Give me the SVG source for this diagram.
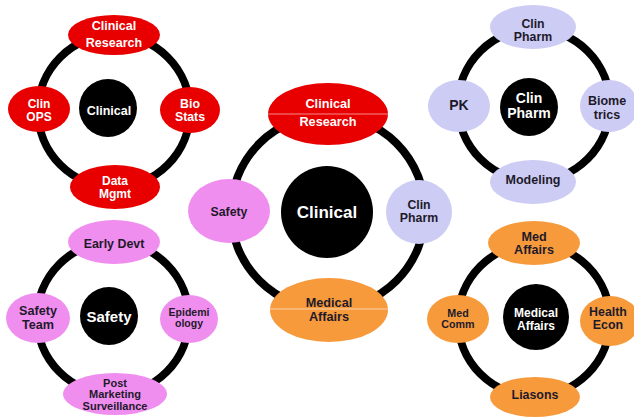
<svg xmlns="http://www.w3.org/2000/svg" width="634" height="418" viewBox="0 0 634 418">
<style>
.ring{fill:none;stroke:#000;stroke-width:8}
.hub{fill:#000}
.red{fill:#e80000}
.pink{fill:#f08ef0}
.lav{fill:#ccccf5}
.org{fill:#f79a3c}
text{font-family:"Liberation Sans",Arial,sans-serif;font-weight:bold;text-anchor:middle}
.w{fill:#fff}
.d{fill:#1e1a2a}
.seam{stroke:#fff;stroke-opacity:0.55;stroke-width:1}
</style>
<rect width="634" height="418" fill="#fff"/>
<g id="connectors">
<circle class="ring" cx="114" cy="111" r="76"/>
<circle class="ring" cx="328" cy="212" r="97" stroke-width="9"/>
<circle class="ring" cx="534" cy="105" r="76"/>
<circle class="ring" cx="113" cy="318" r="76"/>
<circle class="ring" cx="534" cy="320" r="76"/>
</g>
<!-- top-left cluster -->
<g id="tl-hub"><circle class="hub" cx="108" cy="108" r="29"/><text class="w" x="109" y="115" font-size="12.5">Clinical</text></g>
<g id="tl-clinical-research"><ellipse class="red" cx="114" cy="35" rx="46" ry="20"/><text class="w" x="114" y="29.5" font-size="12.5">Clinical</text><text class="w" x="114" y="47" font-size="12.5">Research</text></g>
<g id="tl-clin-ops"><ellipse class="red" cx="39" cy="109" rx="31" ry="23"/><text class="w" x="39" y="108" font-size="12">Clin</text><text class="w" x="39" y="121" font-size="12">OPS</text></g>
<g id="tl-bio-stats"><ellipse class="red" cx="190" cy="110" rx="30" ry="23"/><text class="w" x="190" y="108" font-size="12.3">Bio</text><text class="w" x="190" y="121" font-size="12.3">Stats</text></g>
<g id="tl-data-mgmt"><ellipse class="red" cx="115" cy="187" rx="45" ry="22"/><text class="w" x="115" y="184.5" font-size="12">Data</text><text class="w" x="115" y="197.5" font-size="12">Mgmt</text></g>
<!-- middle cluster -->
<g id="m-hub"><circle class="hub" cx="327" cy="212" r="46"/><text class="w" x="327" y="218" font-size="17">Clinical</text></g>
<g id="m-clinical-research"><ellipse class="red" cx="328" cy="114" rx="60" ry="31"/><line class="seam" x1="268" y1="114" x2="388" y2="114"/><text class="w" x="328" y="108" font-size="12.7">Clinical</text><text class="w" x="328" y="126" font-size="12.7">Research</text></g>
<g id="m-safety"><ellipse class="pink" cx="229" cy="211" rx="41" ry="32"/><text class="d" x="229" y="216" font-size="12.3">Safety</text></g>
<g id="m-clin-pharm"><ellipse class="lav" cx="419" cy="212" rx="33" ry="32"/><text class="d" x="419" y="209" font-size="12.3">Clin</text><text class="d" x="419" y="222" font-size="12.3">Pharm</text></g>
<g id="m-medical-affairs"><ellipse class="org" cx="329" cy="310" rx="59" ry="32"/><line class="seam" x1="270" y1="309" x2="388" y2="309"/><text class="d" x="329" y="307" font-size="12.7">Medical</text><text class="d" x="329" y="321" font-size="12.7">Affairs</text></g>
<!-- top-right cluster -->
<g id="tr-hub"><circle class="hub" cx="529" cy="107" r="29"/><text class="w" x="529" y="102.5" font-size="14">Clin</text><text class="w" x="529" y="117.5" font-size="14">Pharm</text></g>
<g id="tr-clin-pharm"><ellipse class="lav" cx="533" cy="27" rx="43" ry="22"/><text class="d" x="533" y="28" font-size="12.3">Clin</text><text class="d" x="533" y="41" font-size="12.3">Pharm</text></g>
<g id="tr-pk"><ellipse class="lav" cx="459" cy="106" rx="31" ry="26"/><text class="d" x="459" y="110" font-size="14">PK</text></g>
<g id="tr-biometrics"><ellipse class="lav" cx="609" cy="106" rx="29" ry="26"/><text class="d" x="607" y="104.5" font-size="12.5">Biome</text><text class="d" x="607" y="118.5" font-size="12.5">trics</text></g>
<g id="tr-modeling"><ellipse class="lav" cx="533" cy="182" rx="43" ry="22"/><text class="d" x="533" y="184" font-size="12.5">Modeling</text></g>
<!-- bottom-left cluster -->
<g id="bl-hub"><circle class="hub" cx="109" cy="316" r="29"/><text class="w" x="109" y="322" font-size="15">Safety</text></g>
<g id="bl-early-devt"><ellipse class="pink" cx="114" cy="242" rx="46" ry="22"/><text class="d" x="114" y="247.5" font-size="12.4">Early Devt</text></g>
<g id="bl-safety-team"><ellipse class="pink" cx="38" cy="318" rx="32" ry="25"/><text class="d" x="38" y="315" font-size="12.6">Safety</text><text class="d" x="38" y="329" font-size="12.6">Team</text></g>
<g id="bl-epidemiology"><ellipse class="pink" cx="189" cy="319" rx="29" ry="24"/><text class="d" x="189" y="316" font-size="10.5">Epidemi</text><text class="d" x="189" y="327" font-size="10.5">ology</text></g>
<g id="bl-post-marketing"><ellipse class="pink" cx="115" cy="394" rx="52" ry="21"/><text class="d" x="115" y="387" font-size="11">Post</text><text class="d" x="115" y="398" font-size="11">Marketing</text><text class="d" x="115" y="410" font-size="11">Surveillance</text></g>
<!-- bottom-right cluster -->
<g id="br-hub"><circle class="hub" cx="536" cy="317" r="33"/><text class="w" x="536" y="316.5" font-size="12">Medical</text><text class="w" x="536" y="329.5" font-size="12">Affairs</text></g>
<g id="br-med-affairs"><ellipse class="org" cx="534" cy="243" rx="46" ry="22"/><text class="d" x="534" y="240.5" font-size="12.6">Med</text><text class="d" x="534" y="253.5" font-size="12.6">Affairs</text></g>
<g id="br-med-comm"><ellipse class="org" cx="458" cy="319" rx="31" ry="24"/><text class="d" x="458" y="316.5" font-size="10.7">Med</text><text class="d" x="458" y="327.5" font-size="10.7">Comm</text></g>
<g id="br-health-econ"><ellipse class="org" cx="610" cy="321" rx="30" ry="25"/><text class="d" x="608" y="316" font-size="12.4">Health</text><text class="d" x="608" y="329" font-size="12.4">Econ</text></g>
<g id="br-liasons"><ellipse class="org" cx="535" cy="397" rx="45" ry="20"/><text class="d" x="535" y="398.5" font-size="12.4">Liasons</text></g>
</svg>
